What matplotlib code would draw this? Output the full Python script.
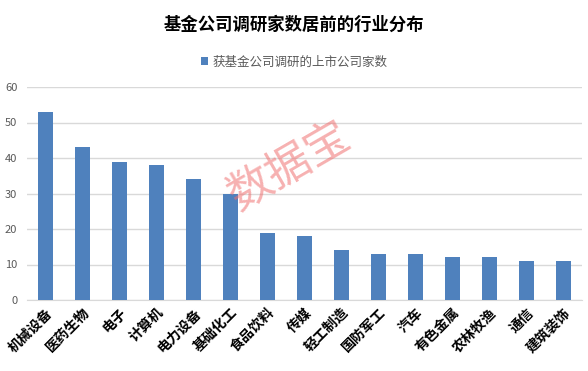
import numpy as np
import matplotlib.pyplot as plt

plt.rcParams['font.family'] = ['Noto Sans CJK SC', 'DejaVu Sans']

industries = ['机械设备', '医药生物', '电子', '计算机', '电力设备', '基础化工', '食品饮料', '传媒',
              '轻工制造', '国防军工', '汽车', '有色金属', '农林牧渔', '通信', '建筑装饰']
counts = [53, 43, 39, 38, 34, 30, 19, 18, 14, 13, 13, 12, 12, 11, 11]
series_name = '获基金公司调研的上市公司家数'
title = '基金公司调研家数居前的行业分布'

fig = plt.figure(figsize=(5.88, 3.71), dpi=100)
ax = fig.add_axes([27/588, 1 - 300/371, 555/588, 213/371])

x = np.arange(len(industries))
ax.bar(x, counts, width=0.4, color='#4f81bd', label=series_name, zorder=3)

ax.set_xlim(-0.5, len(industries) - 0.5)
ax.set_ylim(0, 60)
ax.set_yticks(np.arange(0, 61, 10))
ax.tick_params(axis='y', length=0, labelsize=8, labelcolor='#595959', pad=7)
ax.grid(axis='y', color='#d9d9d9', lw=1, zorder=0)
ax.set_xticks(x)
ax.set_xticklabels(industries, rotation=45, ha='right', rotation_mode='anchor',
                   fontsize=10, fontweight='bold')
ax.tick_params(axis='x', length=0, pad=4)
for s in ['top', 'right', 'left']:
    ax.spines[s].set_visible(False)
ax.spines['bottom'].set_color('#d9d9d9')

fig.text(0.5, 1 - 25/371, title, ha='center', va='center', fontsize=12.5, fontweight='bold')
ax.legend(loc='center', bbox_to_anchor=(0.5, 1 - 62/371), bbox_transform=fig.transFigure,
          frameon=False, fontsize=9, labelcolor='#595959', handlelength=0.6, handleheight=0.6,
          handletextpad=0.3)

fig.text(290/588, 1 - 167/371, '数据宝', ha='center', va='center', fontsize=32,
         color='#f07070', alpha=0.55, rotation=30, zorder=10)

fig.savefig('out.png', dpi=100)
